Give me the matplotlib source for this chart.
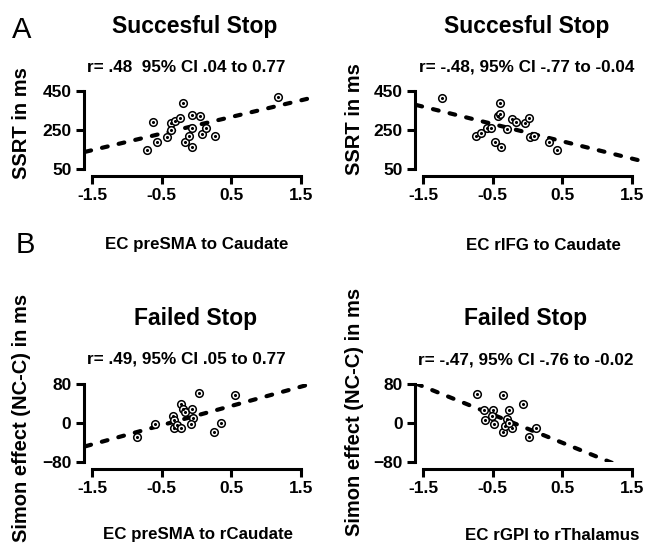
import matplotlib
matplotlib.use("Agg")
import matplotlib.pyplot as plt
import numpy as np

plt.rcParams['font.family'] = ['Liberation Sans', 'DejaVu Sans']
plt.rcParams['font.weight'] = 'bold'

# ---- data ----
ss_presma_x = [-0.72, -0.62, -0.57, -0.42, -0.37, -0.36, -0.31, -0.24, -0.20, -0.16,
               -0.11, -0.07, -0.07, -0.06, 0.05, 0.08, 0.13, 0.26, 1.18]
ss_presma_y = [149, 293, 190, 213, 285, 251, 298, 310, 390, 186,
               217, 259, 161, 327, 324, 230, 259, 220, 418]
ss_presma_fit = [140 + 85 * 1.58, 85]   # intercept at x=0, slope

ss_rifg_x = [-1.23, -0.74, -0.67, -0.58, -0.53, -0.47, -0.43, -0.40, -0.39, -0.38,
             -0.30, -0.23, -0.17, -0.03, 0.02, 0.04, 0.09, 0.31, 0.42]
ss_rifg_y = [416, 220, 234, 259, 259, 188, 324, 331, 390, 161,
             254, 305, 293, 285, 314, 213, 220, 188, 149]
ss_rifg_fit = [379 - 88.5 * 1.61, -88.5]

fs_presma_x = [-0.85, -0.60, -0.34, -0.33, -0.33, -0.28, -0.23, -0.23, -0.19, -0.17,
               -0.06, -0.05, -0.08, 0.03, 0.25, 0.35, 0.56]
fs_presma_y = [-28, -2, 15, 6, -11, -4, 40, -11, 28, 23,
               28, 11, -2, 61, -18, 1, 58]
fs_presma_fit = [-47 + 39.4 * 1.58, 39.4]

fs_rgpi_x = [-0.73, -0.63, -0.61, -0.50, -0.51, -0.48, -0.36, -0.36, -0.33, -0.30,
             -0.27, -0.23, -0.26, -0.07, 0.02, 0.12]
fs_rgpi_y = [59, 26, 6, 26, 14, -3, 57, -18, -7, 9,
             26, -11, -1, 40, -28, -11]
fs_rgpi_fit = [80 - 57.6 * 1.59, -57.6]

x_ticks = [-1.5, -0.5, 0.5, 1.5]
x_ticklabels = ["-1.5", "-0.5", "0.5", "1.5"]
ss_yticks = [50, 250, 450]
fs_yticks = [-80, 0, 80]

titles = ["Succesful Stop", "Succesful Stop", "Failed Stop", "Failed Stop"]
stats = ["r= .48  95% CI .04 to 0.77", "r= -.48, 95% CI -.77 to -0.04",
         "r= .49, 95% CI .05 to 0.77", "r= -.47, 95% CI -.76 to -0.02"]
xlabels = ["EC preSMA to Caudate", "EC rIFG to Caudate",
           "EC preSMA to rCaudate", "EC rGPI to rThalamus"]
ylabels = ["SSRT in ms", "SSRT in ms",
           "Simon effect (NC-C) in ms", "Simon effect (NC-C) in ms"]

W, H = 658, 548
fig = plt.figure(figsize=(W / 100, H / 100), dpi=100)

def px(x, y):
    return x / W, 1 - y / H

panels = [
    dict(x=ss_presma_x, y=ss_presma_y, fit=ss_presma_fit, yt=ss_yticks, left=84, top=91,
         title=(195, 27), stat=(186, 67), xl=(197, 245), yl=(22, 123)),
    dict(x=ss_rifg_x, y=ss_rifg_y, fit=ss_rifg_fit, yt=ss_yticks, left=415, top=91,
         title=(527, 27), stat=(527, 67), xl=(543, 245), yl=(355, 119)),
    dict(x=fs_presma_x, y=fs_presma_y, fit=fs_presma_fit, yt=fs_yticks, left=84, top=384,
         title=(196, 318), stat=(186, 359), xl=(198, 535), yl=(22, 418)),
    dict(x=fs_rgpi_x, y=fs_rgpi_y, fit=fs_rgpi_fit, yt=fs_yticks, left=415, top=384,
         title=(526, 318), stat=(526, 360), xl=(552, 535), yl=(355, 412)),
]

aw, ah = 225, 78
for i, p in enumerate(panels):
    l, b = p['left'] / W, 1 - (p['top'] + ah) / H
    ax = fig.add_axes([l, b, aw / W, ah / H])
    ax.set_xlim(-1.62, 1.62)
    ax.set_ylim(p['yt'][0], p['yt'][-1])
    xs = np.array([-1.6, 1.6])
    ax.plot(xs, p['fit'][0] + p['fit'][1] * xs, color='black', lw=3.0,
            dashes=(1.4, 2.7), solid_capstyle='round', dash_capstyle='round', zorder=2)
    ax.scatter(p['x'], p['y'], s=30, facecolors='white', edgecolors='black',
               linewidths=1.1, zorder=3, clip_on=False)
    ax.scatter(p['x'], p['y'], s=1.5, color='black', zorder=4, clip_on=False)
    for s in ['top', 'right']:
        ax.spines[s].set_visible(False)
    ax.spines['left'].set_linewidth(2.2)
    ax.spines['bottom'].set_linewidth(2.2)
    ax.spines['bottom'].set_position(('outward', 5))
    ax.spines['bottom'].set_bounds(-1.5, 1.5)
    ax.spines['left'].set_bounds(p['yt'][0], p['yt'][-1])
    ax.set_xticks(x_ticks)
    ax.set_xticklabels(x_ticklabels)
    ax.set_yticks(p['yt'])
    ax.tick_params(axis='both', width=2.2, length=6, labelsize=12.5, pad=3)
    for t in ax.get_xticklabels() + ax.get_yticklabels():
        t.set_fontweight('bold')
    fig.text(*px(*p['title']), titles[i], ha='center', va='center', fontsize=16.5, fontweight='bold')
    fig.text(*px(*p['stat']), stats[i], ha='center', va='center', fontsize=12.3, fontweight='bold')
    fig.text(*px(*p['xl']), xlabels[i], ha='center', va='center', fontsize=12.2, fontweight='bold')
    fig.text(*px(*p['yl']), ylabels[i], ha='center', va='center', fontsize=14.5, fontweight='bold',
             rotation=90)

fig.text(*px(22, 30), "A", ha='center', va='center', fontsize=21, fontweight='normal')
fig.text(*px(25, 245), "B", ha='center', va='center', fontsize=21, fontweight='normal')

fig.savefig("out.png", dpi=100)
